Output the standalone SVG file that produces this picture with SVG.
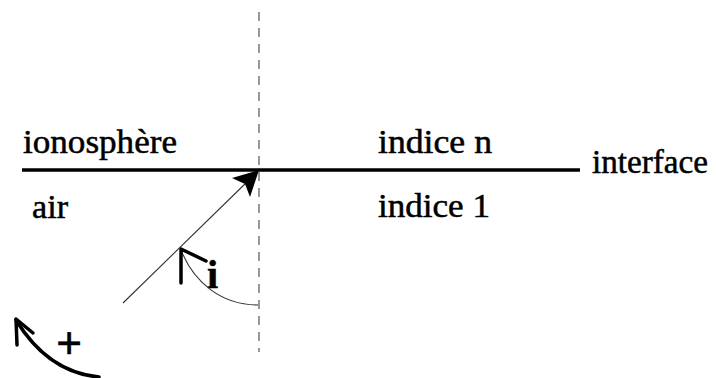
<svg xmlns="http://www.w3.org/2000/svg" width="716" height="378" viewBox="0 0 716 378">
  <style>
    text { font-family: 'Liberation Serif', 'Times New Roman', 'DejaVu Serif', serif; fill: #000; stroke: #000; stroke-width: 0.5; }
    .lbl { font-size: 33px; }
    .thin { fill: none; stroke: #333; stroke-width: 1.1; }
    .thick { fill: none; stroke: #000; stroke-width: 3.5; stroke-linecap: round; stroke-linejoin: round; }
  </style>
  <rect width="716" height="378" fill="#fff"/>
  <g id="interface">
    <line x1="22" y1="170" x2="580" y2="170" stroke="#000" stroke-width="3.5"/>
    <text class="lbl" font-family="Liberation Serif, serif" x="592" y="173" textLength="116" lengthAdjust="spacingAndGlyphs">interface</text>
  </g>
  <g id="normal">
    <line x1="259" y1="12" x2="259" y2="352" stroke="#444" stroke-width="1.1" stroke-dasharray="9 7"/>
  </g>
  <g id="ionosphere">
    <text class="lbl" font-family="Liberation Serif, serif" x="23" y="153" textLength="154" lengthAdjust="spacingAndGlyphs">ionosphère</text>
  </g>
  <g id="indice-n">
    <text class="lbl" font-family="Liberation Serif, serif" x="378" y="153" textLength="114" lengthAdjust="spacingAndGlyphs">indice n</text>
  </g>
  <g id="air">
    <text class="lbl" font-family="Liberation Serif, serif" x="32" y="218" textLength="36" lengthAdjust="spacingAndGlyphs">air</text>
  </g>
  <g id="indice-1">
    <text class="lbl" font-family="Liberation Serif, serif" x="378" y="217" textLength="112" lengthAdjust="spacingAndGlyphs">indice 1</text>
  </g>
  <g id="angle-i">
    <text font-family="Liberation Serif, serif" x="207" y="288" font-weight="bold" font-size="40">i</text>
  </g>
  <g id="sign-plus">
    <text font-family="Liberation Serif, serif" x="56" y="359" font-size="46" font-weight="bold">+</text>
  </g>
  <g id="connectors">
    <line class="thin" x1="123" y1="303" x2="248" y2="181"/>
    <polygon points="259,170 232,178 245,184 250,197" fill="#000"/>
    <path class="thin" d="M181,250 C194,283 222,305 258,305"/>
    <path class="thick" d="M181,283 L181,249 L206,261"/>
    <path class="thick" d="M99,377 C66,374 38,356 16,320"/>
    <path class="thick" d="M17,345 L16,319 L33,333"/>
  </g>
</svg>
